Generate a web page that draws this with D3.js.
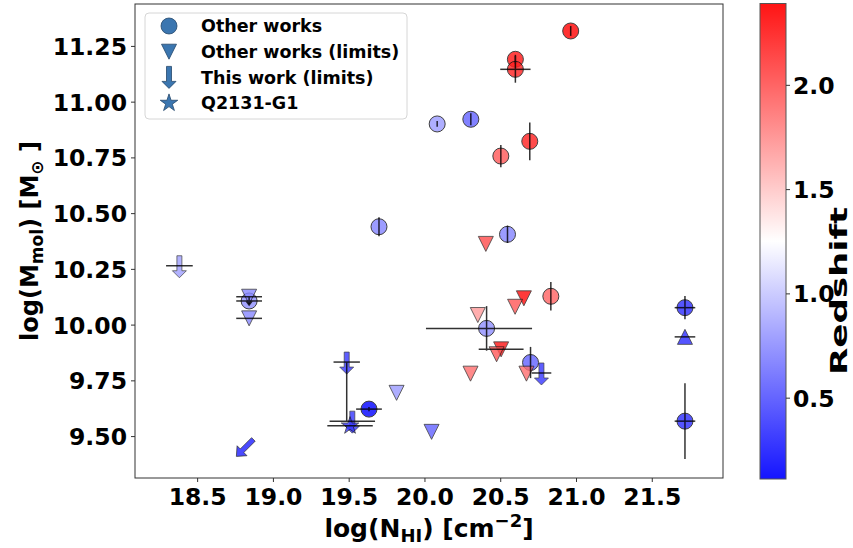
<!DOCTYPE html>
<html>
<head>
<meta charset="utf-8">
<script src="https://cdn.jsdelivr.net/npm/d3@7"></script>
<style>
  body { margin: 0; background: #fff; }
  svg { font-family: "DejaVu Sans", sans-serif; font-weight: bold; }
</style>
</head>
<body>
<svg id="chart" width="853" height="548"></svg>
<script>
// ---- data ----
// "Other works" detections (circles)
const circX = [20.965, 20.60, 20.60, 20.084, 20.306, 20.695, 20.504, 19.70, 20.548, 20.834, 20.41, 20.70, 19.634, 21.719, 21.719, 18.843];
const circY = [11.317, 11.19, 11.145, 10.90, 10.921, 10.822, 10.756, 10.439, 10.405, 10.127, 9.983, 9.83, 9.621, 10.076, 9.567, 10.106];
const circZ = [2.39, 2.30, 2.25, 0.80, 0.55, 2.25, 2.00, 0.70, 0.70, 1.95, 0.75, 0.55, 0.11, 0.30, 0.30, 0.75];
const circXerrLo = [0, 0, 0.10, 0, 0, 0, 0, 0, 0, 0, 0.40, 0, 0.085, 0.068, 0.068, 0.085];
const circXerrHi = [0, 0, 0.10, 0, 0, 0, 0, 0, 0, 0, 0.30, 0, 0.085, 0.068, 0.068, 0.085];
const circYerr = [0.022, 0.02, 0.06, 0.013, 0.027, 0.085, 0.05, 0.043, 0.039, 0.064, 0.10, 0.07, 0.01, 0.052, 0.17, 0];

// "Other works (limits)" (downward triangles)
const triX = [18.843, 18.843, 20.405, 20.656, 20.598, 20.352, 20.506, 20.476, 20.304, 20.673, 19.816, 20.047];
const triY = [10.125, 10.028, 10.362, 10.118, 10.08, 10.043, 9.889, 9.867, 9.78, 9.78, 9.694, 9.519];
const triZ = [0.72, 0.72, 2.05, 2.35, 2.0, 1.7, 2.3, 2.0, 1.9, 1.9, 0.8, 0.55];
const triXerr = [0.085, 0.085, 0, 0, 0, 0, 0.148, 0, 0, 0, 0, 0];

// lower limit (upward triangle)
const upX = [21.719];
const upY = [9.945];
const upZ = [0.30];
const upXerr = [0.068];

// "This work (limits)" arrows
const arrX = [18.383, 19.487, 19.524, 20.772];
const arrY = [10.264, 9.832, 9.567, 9.783];
const arrZ = [0.82, 0.35, 0.35, 0.35];
const arrXerr = [0.088, 0.087, 0.15, 0.065];
const arrYerrLo = [0, 0.265, 0, 0];

// limit in both axes (diagonal arrow)
const diagX = [18.871];
const diagY = [9.485];
const diagZ = [0.30];

// Q2131-G1
const starX = [19.509];
const starY = [9.546];
const starZ = [0.35];
const starXerr = [0.15];

const xTicks = [18.5, 19.0, 19.5, 20.0, 20.5, 21.0, 21.5];
const yTicks = [9.50, 9.75, 10.00, 10.25, 10.50, 10.75, 11.00, 11.25];
const cTicks = [0.5, 1.0, 1.5, 2.0];
const legendLabels = ["Other works", "Other works (limits)", "This work (limits)", "Q2131-G1"];

// ---- layout ----
const svg = d3.select("#chart");
const plot = { left: 135, right: 723, top: 4, bottom: 478 };

const x = d3.scaleLinear().domain([18.09, 21.97]).range([plot.left, plot.right]);
const y = d3.scaleLinear().domain([9.312, 11.438]).range([plot.bottom, plot.top]);

const allZ = [...circZ, ...triZ, ...upZ, ...arrZ, ...diagZ, ...starZ];
const zExt = d3.extent(allZ);
const zMid = (zExt[0] + zExt[1]) / 2;
// matplotlib "bwr"
const color = d3.scaleLinear().domain([zExt[0], zMid, zExt[1]]).range(["#0000ff", "#ffffff", "#ff0000"]);

const markAlpha = 0.8;
const edge = "#111";

// clip for plot area
svg.append("defs").append("clipPath").attr("id", "clip")
  .append("rect").attr("x", plot.left).attr("y", plot.top)
  .attr("width", plot.right - plot.left).attr("height", plot.bottom - plot.top);

const g = svg.append("g").attr("clip-path", "url(#clip)");

// marker shapes
const triDown = s => `M0,${s}L${-s},${-s}L${s},${-s}Z`;
const triUp = s => `M0,${-s}L${-s},${s}L${s},${s}Z`;
const starPath = d3.symbol().type(d3.symbolStar).size(95)();
function arrowPath(len, shaft, head, headLen) {
  // pointing down (+y), starting at 0
  const s = shaft / 2, h = head / 2;
  return `M${-s},0L${s},0L${s},${len - headLen}L${h},${len - headLen}L0,${len}L${-h},${len - headLen}L${-s},${len - headLen}Z`;
}

// markers
g.selectAll(".circ").data(circX).enter().append("circle")
  .attr("cx", (d, i) => x(d)).attr("cy", (d, i) => y(circY[i])).attr("r", 8)
  .attr("fill", (d, i) => color(circZ[i])).attr("stroke", edge).attr("stroke-width", 1)
  .attr("opacity", markAlpha);

g.selectAll(".tri").data(triX).enter().append("path")
  .attr("d", triDown(7.5))
  .attr("transform", (d, i) => `translate(${x(d)},${y(triY[i])})`)
  .attr("fill", (d, i) => color(triZ[i])).attr("stroke", edge).attr("stroke-width", 0.8)
  .attr("opacity", markAlpha);

g.selectAll(".up").data(upX).enter().append("path")
  .attr("d", triUp(7.5))
  .attr("transform", (d, i) => `translate(${x(d)},${y(upY[i])})`)
  .attr("fill", (d, i) => color(upZ[i])).attr("stroke", edge).attr("stroke-width", 0.8)
  .attr("opacity", markAlpha);

g.selectAll(".arr").data(arrX).enter().append("path")
  .attr("d", arrowPath(22, 5, 14, 7))
  .attr("transform", (d, i) => `translate(${x(d)},${y(arrY[i]) - 10})`)
  .attr("fill", (d, i) => color(arrZ[i])).attr("stroke", edge).attr("stroke-width", 0.7)
  .attr("opacity", markAlpha);

g.selectAll(".diag").data(diagX).enter().append("path")
  .attr("d", arrowPath(24, 5, 14, 8))
  .attr("transform", (d, i) => `translate(${x(d)},${y(diagY[i])}) rotate(45)`)
  .attr("fill", (d, i) => color(diagZ[i])).attr("stroke", edge).attr("stroke-width", 0.7)
  .attr("opacity", 0.85);

g.selectAll(".star").data(starX).enter().append("path")
  .attr("d", starPath)
  .attr("transform", (d, i) => `translate(${x(d)},${y(starY[i])})`)
  .attr("fill", (d, i) => color(starZ[i])).attr("stroke", edge).attr("stroke-width", 0.8)
  .attr("opacity", markAlpha);

// error bars (drawn over the markers)
const eb = g.append("g").attr("stroke", "#000").attr("stroke-width", 1.5).attr("opacity", 0.8);
function hbar(xv, yv, lo, hi) {
  if (!(lo > 0 || hi > 0)) return;
  eb.append("line").attr("x1", x(xv - lo)).attr("x2", x(xv + hi)).attr("y1", y(yv)).attr("y2", y(yv));
}
function vbar(xv, yv, lo, hi) {
  if (!(lo > 0 || hi > 0)) return;
  eb.append("line").attr("x1", x(xv)).attr("x2", x(xv)).attr("y1", y(yv - lo)).attr("y2", y(yv + hi));
}
circX.forEach((d, i) => { hbar(d, circY[i], circXerrLo[i], circXerrHi[i]); vbar(d, circY[i], circYerr[i], circYerr[i]); });
triX.forEach((d, i) => hbar(d, triY[i], triXerr[i], triXerr[i]));
upX.forEach((d, i) => hbar(d, upY[i], upXerr[i], upXerr[i]));
arrX.forEach((d, i) => { hbar(d, arrY[i], arrXerr[i], arrXerr[i]); vbar(d, arrY[i], arrYerrLo[i], 0); });
starX.forEach((d, i) => hbar(d, starY[i], starXerr[i], starXerr[i]));
// upper-limit caret on the circle without a y error
circX.forEach((d, i) => {
  if (circYerr[i] > 0) return;
  const cx = x(d), cy = y(circY[i]);
  eb.append("path").attr("fill", "none")
    .attr("d", `M${cx},${cy - 5}L${cx},${cy + 4}M${cx - 3},${cy}L${cx},${cy + 4}L${cx + 3},${cy}`);
});

// axes frame
svg.append("rect").attr("x", plot.left).attr("y", plot.top)
  .attr("width", plot.right - plot.left).attr("height", plot.bottom - plot.top)
  .attr("fill", "none").attr("stroke", "#333").attr("stroke-width", 1);

const xAxis = svg.append("g").attr("transform", `translate(0,${plot.bottom})`)
  .call(d3.axisBottom(x).tickValues(xTicks).tickFormat(d3.format(".1f")).tickSize(4).tickPadding(6));
const yAxis = svg.append("g").attr("transform", `translate(${plot.left},0)`)
  .call(d3.axisLeft(y).tickValues(yTicks).tickFormat(d3.format(".2f")).tickSize(4).tickPadding(4));
[xAxis, yAxis].forEach(a => {
  a.select(".domain").remove();
  a.selectAll("line").attr("stroke", "#333");
  a.selectAll("text").attr("font-size", 23.5).attr("font-weight", "bold")
    .attr("font-family", "DejaVu Sans").attr("fill", "#000");
});
yAxis.selectAll("text").attr("dy", "0.36em");

// axis titles
const xl = svg.append("text").attr("x", (plot.left + plot.right) / 2).attr("y", 537)
  .attr("text-anchor", "middle").attr("font-size", 25);
xl.append("tspan").text("log(N");
xl.append("tspan").attr("font-size", 18).attr("dy", 5).text("HI");
xl.append("tspan").attr("dy", -5).text(") [cm");
xl.append("tspan").attr("font-size", 18).attr("dy", -10).text("\u22122");
xl.append("tspan").attr("dy", 10).text("]");

const yl = svg.append("text").attr("transform", `translate(38,${(plot.top + plot.bottom) / 2}) rotate(-90)`)
  .attr("text-anchor", "middle").attr("font-size", 24);
yl.append("tspan").text("log(M");
yl.append("tspan").attr("font-size", 17).attr("dy", 5).text("mol");
yl.append("tspan").attr("dy", -5).text(") [M");
yl.append("tspan").attr("font-size", 17).attr("dy", 5).text("\u2299");
yl.append("tspan").attr("dy", -5).text(" ]");

// legend
const lg = svg.append("g").attr("transform", "translate(145,13)");
lg.append("rect").attr("width", 262).attr("height", 106).attr("rx", 4)
  .attr("fill", "#fff").attr("fill-opacity", 0.8).attr("stroke", "#d6d6d6");
const legBlue = "#3b76b0";
const legRow = i => 13 + i * 25.7;
lg.append("circle").attr("cx", 24).attr("cy", legRow(0)).attr("r", 8)
  .attr("fill", legBlue).attr("stroke", "#24476b").attr("stroke-width", 0.8);
lg.append("path").attr("d", triDown(7.5)).attr("transform", `translate(24,${legRow(1)})`)
  .attr("fill", legBlue).attr("stroke", "#24476b").attr("stroke-width", 0.8);
lg.append("path").attr("d", arrowPath(22, 5, 14, 7)).attr("transform", `translate(24,${legRow(2) - 11})`)
  .attr("fill", legBlue).attr("stroke", "#24476b").attr("stroke-width", 0.8);
lg.append("path").attr("d", starPath).attr("transform", `translate(24,${legRow(3)})`)
  .attr("fill", legBlue).attr("stroke", "#24476b").attr("stroke-width", 0.8);
lg.selectAll(".lt").data(legendLabels).enter().append("text")
  .attr("x", 56).attr("y", (d, i) => legRow(i)).attr("dy", "0.36em")
  .attr("font-size", 17.5).text(d => d);

// colorbar
const cb = { x: 760, w: 26, top: 3.5, bottom: 479 };
const cy = d3.scaleLinear().domain(zExt).range([cb.bottom, cb.top]);
const grad = svg.select("defs").append("linearGradient").attr("id", "cbar")
  .attr("x1", 0).attr("y1", 1).attr("x2", 0).attr("y2", 0);
d3.range(0, 1.0001, 0.05).forEach(t => {
  grad.append("stop").attr("offset", t).attr("stop-color", color(zExt[0] + t * (zExt[1] - zExt[0])))
    .attr("stop-opacity", 0.92);
});
svg.append("rect").attr("x", cb.x).attr("y", cb.top).attr("width", cb.w).attr("height", cb.bottom - cb.top)
  .attr("fill", "url(#cbar)").attr("stroke", "#555").attr("stroke-width", 1);
const cAxis = svg.append("g").attr("transform", `translate(${cb.x + cb.w},0)`)
  .call(d3.axisRight(cy).tickValues(cTicks).tickFormat(d3.format(".1f")).tickSize(4).tickPadding(3));
cAxis.select(".domain").remove();
cAxis.selectAll("line").attr("stroke", "#333");
cAxis.selectAll("text").attr("font-size", 23.5).attr("font-weight", "bold")
  .attr("font-family", "DejaVu Sans").attr("fill", "#000").attr("dy", "0.36em");

// colorbar title (long and narrow in the original figure)
svg.append("text").attr("transform", `translate(847,291) rotate(-90)`)
  .attr("text-anchor", "middle").attr("font-size", 23)
  .attr("textLength", 168).attr("lengthAdjust", "spacingAndGlyphs").text("Redshift");
</script>
</body>
</html>
